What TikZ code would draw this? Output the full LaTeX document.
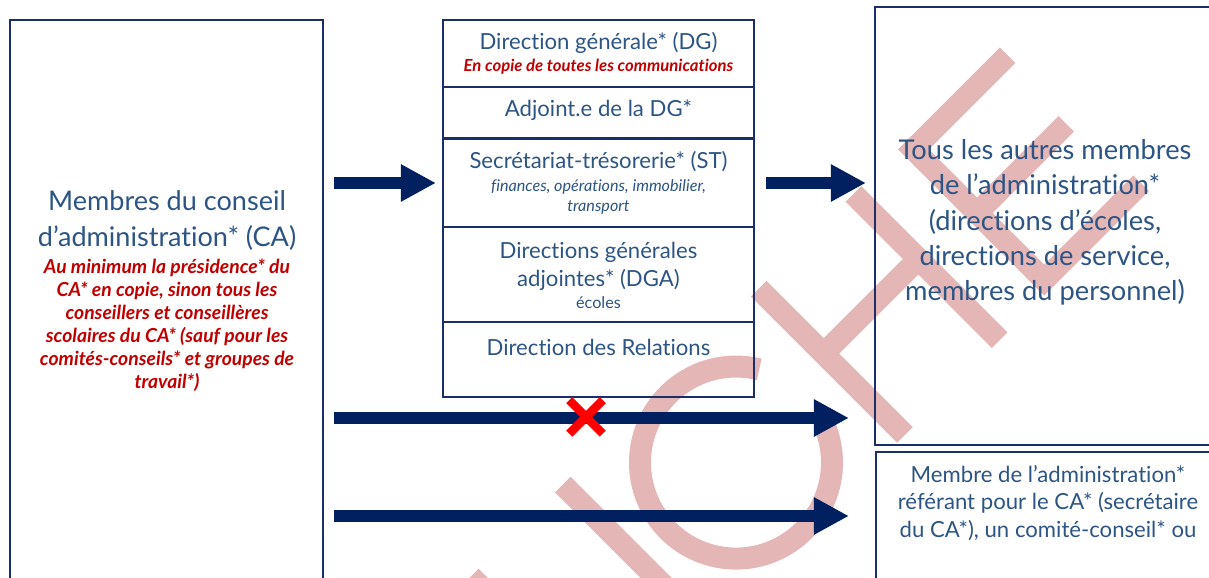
\documentclass[tikz,border=0pt]{standalone}
\usepackage{fontspec}
\setmainfont{Lato}[Ligatures={TeX,NoCommon}]
\usetikzlibrary{arrows.meta,shapes.misc}
\definecolor{boxnavy}{RGB}{28,46,104}
\definecolor{arrownavy}{RGB}{0,32,96}
\definecolor{textblue}{RGB}{44,84,132}
\definecolor{notered}{RGB}{192,0,0}
\definecolor{wmpink}{RGB}{228,182,182}

\begin{document}
\begin{tikzpicture}[
  box/.style={draw=boxnavy, line width=0.022cm, inner sep=0pt},
  bigarrow/.style={arrownavy, line width=0.12cm, -{Triangle[length=0.35cm,width=0.35cm]}},
  wmark/.style={wmpink, line width=0.22cm},
  title/.style={textblue, align=center, inner sep=0pt},
  note/.style={notered, align=center, inner sep=0pt}]
\useasboundingbox (0,0) rectangle (12.09,5.78);
\clip (0,0) rectangle (12.09,5.78);

% watermark
\begin{scope}[shift={(9.05,1.43)}, rotate=45, wmark]
\draw (-3.96,1.96) -- (-5.09,1.96) -- (-5.09,0);
\draw (-5.09,1.06) -- (-4.1,1.06);
\draw (-2.77,0) -- (-2.77,2.07);
\draw (-1.39,1.0) ++(31:0.96) arc[start angle=31, end angle=337, radius=0.96];
\draw (0,0) -- (0,2.07) (1.34,0) -- (1.34,2.07) (0,1.15) -- (1.34,1.15);
\draw (3.41,1.96) -- (2.08,1.96) -- (2.08,0.11) -- (3.45,0.11);
\draw (2.08,1.06) -- (3.34,1.06);
\end{scope}

% conseil
\node[box, minimum width=3.13cm, minimum height=5.9cm] (ca) at (1.665,2.63) {};
\node[title, font=\fontsize{7.7}{10.24}\selectfont] (ca-title) at (1.67,3.57) {Membres du conseil\\d’administration* (CA)};
\node[note, font=\bfseries\itshape\fontsize{5.5}{6.54}\selectfont] (ca-note) at (1.67,2.525) {Au minimum la présidence* du\\CA* en copie, sinon tous les\\conseillers et conseillères\\scolaires du CA* (sauf pour les\\comités-conseils* et groupes de\\travail*)};

% direction
\node[box, minimum width=3.11cm, minimum height=0.67cm] (dg) at (5.985,5.245) {};
\node[box, minimum width=3.11cm, minimum height=0.51cm] (adj) at (5.985,4.655) {};
\node[box, minimum width=3.11cm, minimum height=0.88cm] (st) at (5.985,3.95) {};
\node[box, minimum width=3.11cm, minimum height=0.95cm] (dga) at (5.985,3.035) {};
\node[box, minimum width=3.11cm, minimum height=0.75cm] (rel) at (5.985,2.185) {};

\node[title, font=\fontsize{6.3}{8}\selectfont] (dg-text) at (5.985,5.35) {Direction générale* (DG)};
\node[note, font=\bfseries\itshape\fontsize{4.75}{5.5}\selectfont] (dg-note) at (5.985,5.11) {En copie de toutes les communications};
\node[title, font=\fontsize{6.3}{8}\selectfont] (adj-text) at (5.985,4.68) {Adjoint.e de la DG*};
\node[title, font=\fontsize{6.3}{8}\selectfont] (st-text) at (5.985,4.16) {Secrétariat-trésorerie* (ST)};
\node[title, font=\itshape\fontsize{4.6}{5.69}\selectfont] (st-note) at (5.985,3.81) {finances, opérations, immobilier,\\transport};
\node[title, font=\fontsize{6.3}{7.97}\selectfont] (dga-text) at (5.985,3.12) {Directions générales\\adjointes* (DGA)};
\node[title, font=\fontsize{4.6}{5.5}\selectfont] (dga-note) at (5.985,2.75) {écoles};
\node[title, font=\fontsize{6.3}{8}\selectfont] (rel-text) at (5.985,2.31) {Direction des Relations};

% destinataires
\node[box, minimum width=3.45cm, minimum height=4.38cm] (autres) at (10.475,3.52) {};
\node[title, font=\fontsize{7.75}{10.04}\selectfont] (autres-text) at (10.45,3.554) {Tous les autres membres\\de l’administration*\\(directions d’écoles,\\directions de service,\\membres du personnel)};
\node[box, minimum width=3.44cm, minimum height=1.68cm] (ref) at (10.48,0.42) {};
\node[title, font=\fontsize{6.3}{7.8}\selectfont] (ref-text) at (10.48,0.75) {Membre de l’administration*\\référant pour le CA* (secrétaire\\du CA*), un comité-conseil* ou};

% fleches
\coordinate (lvlb) at (0,1.60);
\coordinate (lvlc) at (0,0.62);
\draw[bigarrow, shorten <=0.1cm, shorten >=0.06cm] (ca.east |- st.west) -- (st.west);
\draw[bigarrow, shorten <=0.11cm, shorten >=0.08cm] (st.east) -- (autres.west |- st.east);
\draw[bigarrow, shorten <=0.1cm, shorten >=0.25cm] (ca.east |- lvlb) -- (autres.west |- lvlb);
\draw[bigarrow, shorten <=0.1cm, shorten >=0.26cm] (ca.east |- lvlc) -- (ref.west |- lvlc);
\node[cross out, draw=red, line width=0.085cm, minimum size=0.25cm, inner sep=0pt] (cut) at (5.86,1.61) {};

\end{tikzpicture}
\end{document}
